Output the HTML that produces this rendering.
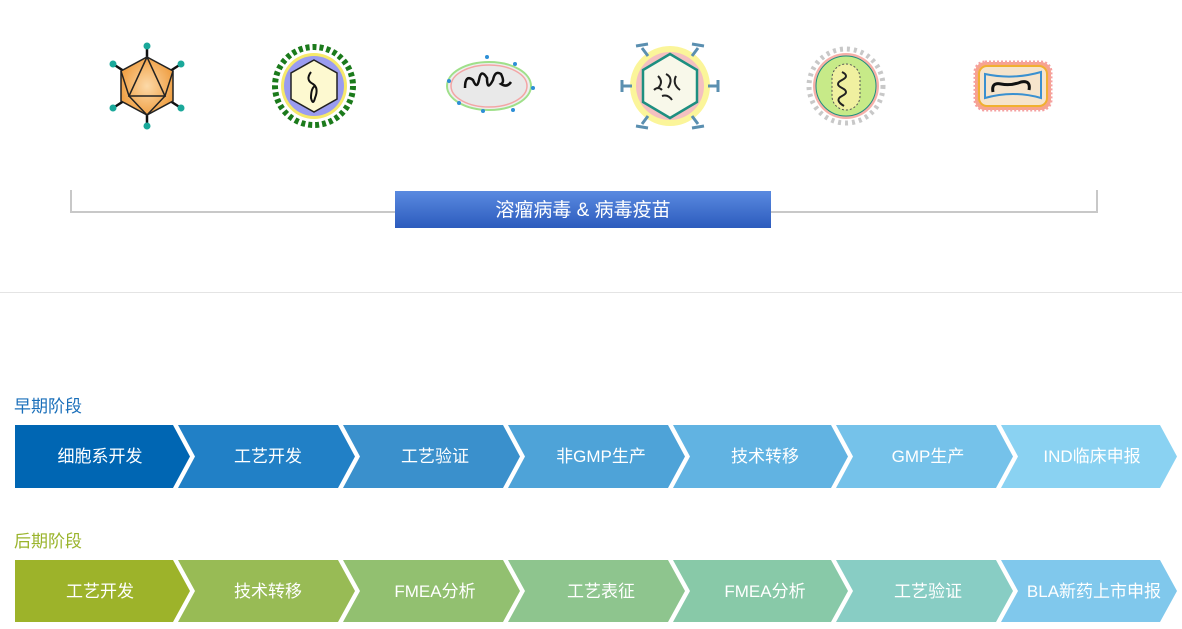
<!DOCTYPE html>
<html><head><meta charset="utf-8"><style>
body{margin:0;width:1182px;height:629px;background:#fff;position:relative;overflow:hidden;font-family:"Liberation Sans","Noto Sans CJK SC",sans-serif}
.lbl{position:absolute;font-size:17px}
.t{font-size:17px;fill:#fff;text-anchor:middle;font-family:"Liberation Sans","Noto Sans CJK SC",sans-serif}
</style></head><body>
<svg width="1182" height="629" style="position:absolute;left:0;top:0">
<defs>
<linearGradient id="bg" x1="0" y1="0" x2="0" y2="1"><stop offset="0" stop-color="#5a8ae0"/><stop offset="1" stop-color="#2c5bbd"/></linearGradient>
<radialGradient id="og"><stop offset="0" stop-color="#fcd9a8"/><stop offset="1" stop-color="#f0a248"/></radialGradient>
</defs>
<!-- icon 1 -->
<g transform="translate(147,86)">
<g stroke="#111" stroke-width="2.5"><line x1="0" y1="-40" x2="0" y2="40"/><line x1="-34" y1="-22" x2="34" y2="22"/><line x1="34" y1="-22" x2="-34" y2="22"/></g>
<polygon points="0,-29 26,-15 26,15 0,29 -26,15 -26,-15" fill="url(#og)" stroke="#222" stroke-width="1.5"/>
<polygon points="0,-29 -18,10 18,10" fill="none" stroke="#222" stroke-width="1.5"/>
<polyline points="-26,-15 -18,10 0,29 18,10 26,-15" fill="none" stroke="#222" stroke-width="1.5"/>
<g fill="#1aa89a"><circle cx="0" cy="-40" r="3.5"/><circle cx="0" cy="40" r="3.5"/><circle cx="-34" cy="-22" r="3.5"/><circle cx="34" cy="-22" r="3.5"/><circle cx="-34" cy="22" r="3.5"/><circle cx="34" cy="22" r="3.5"/></g>
</g>
<!-- icon 2 -->
<g transform="translate(314,86)">
<circle r="39" fill="none" stroke="#1b7a1b" stroke-width="6" stroke-dasharray="4 3"/>
<circle r="33" fill="#f6e96a"/><circle r="30" fill="#9a9cf0"/>
<polygon points="0,-26 23,-13 23,13 0,26 -23,13 -23,-13" fill="#fdf9d0" stroke="#222" stroke-width="1.5"/>
<path d="M-3,-14 q-6,8 2,12 q6,4 2,14 q-2,8 -4,0 q0,-10 4,-12" fill="none" stroke="#111" stroke-width="2"/>
</g>
<!-- icon 3 -->
<g transform="translate(489,86)">
<ellipse rx="42" ry="24" fill="#eee" stroke="#9fe08a" stroke-width="2"/>
<ellipse rx="38" ry="21" fill="#e9e9e9" stroke="#f3a5a5" stroke-width="1.5"/>
<path d="M-24,2 q0,-14 8,-8 q4,10 6,0 q2,-12 8,-2 q0,14 6,2 q2,-10 8,-6 q4,8 0,10 q6,4 10,-2" fill="none" stroke="#111" stroke-width="2.5"/>
<g fill="#2d8fd6"><circle cx="-40" cy="-5" r="2"/><circle cx="-2" cy="-29" r="2"/><circle cx="26" cy="-22" r="2"/><circle cx="44" cy="2" r="2"/><circle cx="24" cy="24" r="2"/><circle cx="-30" cy="17" r="2"/><circle cx="-6" cy="25" r="2"/></g>
</g>
<!-- icon 4 -->
<g transform="translate(670,86)">
<circle r="40" fill="#fbf59a"/><circle r="34" fill="#f4c0c0"/>
<polygon points="0,-32 27,-16 27,16 0,32 -27,16 -27,-16" fill="#f8f8ea" stroke="#1d8f80" stroke-width="2.5"/>
<path d="M-12,-10 q6,6 0,12 M-4,-12 q8,4 2,14 M6,-10 q-4,8 4,14 M-8,10 q6,-2 10,4 M-16,4 q4,-4 8,0" fill="none" stroke="#222" stroke-width="2"/>
<g stroke="#5a8fb0" stroke-width="3" fill="none"><path d="M-48,0 h10 M-48,-6 v12 M38,0 h10 M48,-6 v12 M-28,-38 l6,8 M-34,-40 l12,-2 M22,-30 l6,-8 M22,-42 l12,2 M-28,38 l6,-8 M-34,40 l12,2 M22,30 l6,8 M22,42 l12,-2"/></g>
</g>
<!-- icon 5 -->
<g transform="translate(846,86)">
<circle r="37" fill="none" stroke="#c8c8c8" stroke-width="5" stroke-dasharray="3 4"/>
<circle r="33" fill="#f6b0a8"/><circle r="30" fill="#c7ea88" stroke="#1d8f80" stroke-width="1"/>
<rect x="-14" y="-22" width="28" height="46" rx="14" fill="#f0f0a0" stroke="#555" stroke-dasharray="2 2"/>
<path d="M-4,-14 q8,4 0,8 q-8,4 0,8 q8,4 0,8 q-8,4 2,10" fill="none" stroke="#222" stroke-width="2"/>
</g>
<!-- icon 6 -->
<g transform="translate(1013,86)">
<rect x="-38" y="-24" width="76" height="48" rx="10" fill="#f7a48a" stroke="#f5a0a0" stroke-width="3" stroke-dasharray="2 2"/>
<rect x="-34" y="-20" width="68" height="40" rx="8" fill="#f6e4cc" stroke="#f0b030" stroke-width="2"/>
<path d="M-28,-12 q28,6 56,-2 v26 q-28,-8 -56,0 z" fill="none" stroke="#3a90d0" stroke-width="2"/>
<path d="M-20,6 q-2,-10 8,-8 q10,2 20,-2 q10,-2 8,8" fill="none" stroke="#111" stroke-width="3"/>
</g>
<!-- bracket -->
<polyline points="71,190 71,212 1097,212 1097,190" fill="none" stroke="#c8c8c8" stroke-width="2"/>
<rect x="395" y="191" width="376" height="37" fill="url(#bg)"/>
<text x="583" y="216" class="t" style="font-size:19px">溶瘤病毒 &amp; 病毒疫苗</text>
<line x1="0" y1="292.5" x2="1182" y2="292.5" stroke="#e4e4e4"/>
<!-- early -->
<g>
<polygon points="15,425 173,425 190,456.5 173,488 15,488" fill="#0066b3"/>
<polygon points="178,425 338,425 355,456.5 338,488 178,488 195,456.5" fill="#2180c6"/>
<polygon points="343,425 503,425 520,456.5 503,488 343,488 360,456.5" fill="#3a90cc"/>
<polygon points="508,425 668,425 685,456.5 668,488 508,488 525,456.5" fill="#4ea3d8"/>
<polygon points="673,425 831,425 848,456.5 831,488 673,488 690,456.5" fill="#61b3e2"/>
<polygon points="836,425 996,425 1013,456.5 996,488 836,488 853,456.5" fill="#75c2ea"/>
<polygon points="1001,425 1160,425 1177,456.5 1160,488 1001,488 1018,456.5" fill="#8ad2f2"/>
<text x="100" y="462" class="t">细胞系开发</text>
<text x="268" y="462" class="t">工艺开发</text>
<text x="435" y="462" class="t">工艺验证</text>
<text x="601" y="462" class="t">非GMP生产</text>
<text x="765" y="462" class="t">技术转移</text>
<text x="928" y="462" class="t">GMP生产</text>
<text x="1092" y="462" class="t">IND临床申报</text>
</g>
<!-- late -->
<g>
<polygon points="15,560 173,560 190,591 173,622 15,622" fill="#9db32a"/>
<polygon points="178,560 338,560 355,591 338,622 178,622 195,591" fill="#98bb55"/>
<polygon points="343,560 503,560 520,591 503,622 343,622 360,591" fill="#92c070"/>
<polygon points="508,560 668,560 685,591 668,622 508,622 525,591" fill="#8ec58e"/>
<polygon points="673,560 831,560 848,591 831,622 673,622 690,591" fill="#88c9a8"/>
<polygon points="836,560 996,560 1013,591 996,622 836,622 853,591" fill="#88cdc4"/>
<polygon points="1001,560 1160,560 1177,591 1160,622 1001,622 1018,591" fill="#80c8ec"/>
<text x="100" y="597" class="t">工艺开发</text>
<text x="268" y="597" class="t">技术转移</text>
<text x="435" y="597" class="t">FMEA分析</text>
<text x="601" y="597" class="t">工艺表征</text>
<text x="765" y="597" class="t">FMEA分析</text>
<text x="928" y="597" class="t">工艺验证</text>
<text x="1094" y="597" class="t">BLA新药上市申报</text>
</g>
</svg>
<div class="lbl" style="left:14px;top:392px;color:#1a6fba">早期阶段</div>
<div class="lbl" style="left:14px;top:527px;color:#9ab42c">后期阶段</div>
</body></html>
